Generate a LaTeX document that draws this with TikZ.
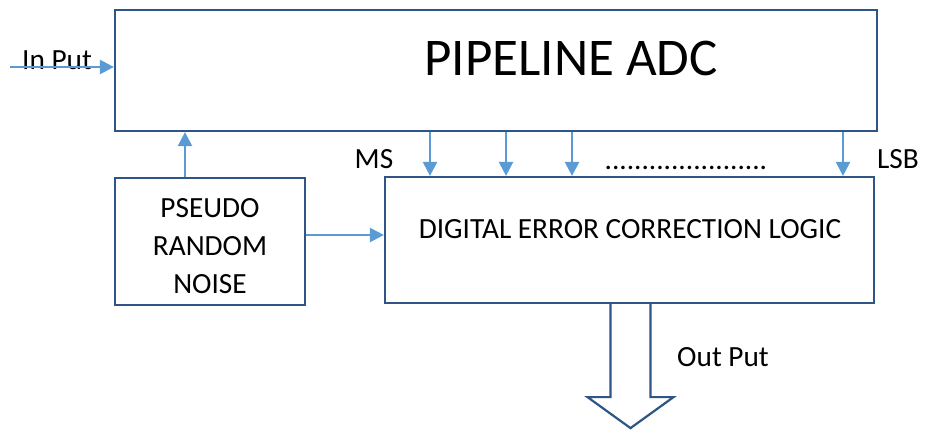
\documentclass[tikz,border=0pt]{standalone}
\usepackage{fontspec}
\setmainfont{Carlito}
\usetikzlibrary{arrows.meta}
\definecolor{boxblue}{HTML}{2F5587}
\definecolor{arrblue}{HTML}{5B9BD5}
\begin{document}
\begin{tikzpicture}[x=1pt,y=-1pt,
  box/.style={draw=boxblue,line width=2.2pt,fill=white,inner sep=0pt},
  arr/.style={draw=arrblue,line width=2.3pt,-{Triangle[length=14pt,width=14pt]}},
  lbl/.style={font=\fontsize{29.3}{38}\selectfont,inner sep=0pt,align=center}]
\useasboundingbox (0,0) rectangle (928,429);
% boxes
\node[box,minimum width=762pt,minimum height=121pt] (adc) at (496,70.5) {};
\node[lbl,font=\fontsize{53}{60}\selectfont] (adct) at (571,58) {PIPELINE ADC};
\node[box,minimum width=190pt,minimum height=127pt] (prn) at (210,241.5) {};
\node[lbl] (prnt) at (210,246) {PSEUDO\\RANDOM\\NOISE};
\node[box,minimum width=489pt,minimum height=126pt] (dec) at (629.5,240) {};
\node[lbl] (dect) at (630,229) {DIGITAL ERROR CORRECTION LOGIC};
% labels
\node[lbl] (inp) at (57,60) {In Put};
\node[lbl] (ms) at (374,159) {MS};
\node[lbl] (lsb) at (898,159) {LSB};
\node[lbl,anchor=base] (dots) at (686,169) {......................};
\node[lbl] (outp) at (723,357) {Out Put};
% coordinates
\coordinate (inS) at (10,67);
\coordinate (b1) at (430,0);
\coordinate (b2) at (506,0);
\coordinate (b3) at (572,0);
\coordinate (b4) at (843,0);
\coordinate (up) at (185,0);
\coordinate (mid) at (0,235);
% connectors
\draw[arr] (inS) -- (inS -| adc.west);
\foreach \b in {b1,b2,b3,b4} \draw[arr] (adc.south -| \b) -- (dec.north -| \b);
\draw[arr] (prn.north -| up) -- (adc.south -| up);
\draw[arr] (prn.east |- mid) -- (dec.west |- mid);
% output arrow
\draw[draw=boxblue,line width=2.2pt,fill=white,line join=miter]
  ([xshift=-19pt]dec.south) -- ([xshift=-19pt,yshift=-93pt]dec.south)
  -- ([xshift=-42pt,yshift=-93pt]dec.south) -- ([xshift=1pt,yshift=-124pt]dec.south)
  -- ([xshift=44pt,yshift=-93pt]dec.south) -- ([xshift=21pt,yshift=-93pt]dec.south)
  -- ([xshift=21pt]dec.south);
\end{tikzpicture}
\end{document}
